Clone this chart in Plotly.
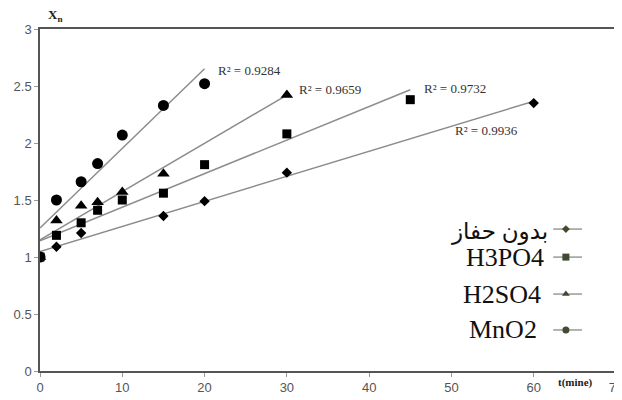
import numpy as np
import plotly.graph_objects as go

# ---- data ----
series_names = ["بدون حفاز", "H3PO4", "H2SO4", "MnO2"]
t_none = [0, 2, 5, 15, 20, 30, 60]
x_none = [1.0, 1.09, 1.21, 1.36, 1.49, 1.74, 2.35]
t_h3po4 = [0, 2, 5, 7, 10, 15, 20, 30, 45]
x_h3po4 = [1.0, 1.19, 1.30, 1.41, 1.50, 1.56, 1.81, 2.08, 2.38]
t_h2so4 = [0, 2, 5, 7, 10, 15, 30]
x_h2so4 = [1.0, 1.32, 1.45, 1.48, 1.57, 1.73, 2.42]
t_mno2 = [0, 2, 5, 7, 10, 15, 20]
x_mno2 = [1.0, 1.50, 1.66, 1.82, 2.07, 2.33, 2.52]
r2_labels = ["R² = 0.9936", "R² = 0.9732", "R² = 0.9659", "R² = 0.9284"]
r2_pos_x = [50.2, 46.4, 31.2, 21.4]
r2_pos_y = [2.11, 2.48, 2.47, 2.64]
x_ticks = [0, 10, 20, 30, 40, 50, 60, 70]
y_ticks = [0, 0.5, 1, 1.5, 2, 2.5, 3]

ts = [t_none, t_h3po4, t_h2so4, t_mno2]
xs = [x_none, x_h3po4, x_h2so4, x_mno2]
symbols = ["diamond", "square", "triangle-up", "circle"]
sizes = [8, 9, 11, 11]

fig = go.Figure()

# trend lines (least-squares fits of each series)
for t, x in zip(ts, xs):
    a, b = np.polyfit(t, x, 1)
    tt = np.array([0, max(t)])
    fig.add_trace(go.Scatter(x=tt, y=a * tt + b, mode="lines",
                             line=dict(color="#8c8c8c", width=1.5),
                             showlegend=False, hoverinfo="skip"))

# data points
for name, t, x, s, sz in zip(series_names, ts, xs, symbols, sizes):
    fig.add_trace(go.Scatter(x=t, y=x, mode="markers", name=name,
                             marker=dict(symbol=s, size=sz, color="black"),
                             showlegend=False))

# custom legend (glyph to the right of the text), drawn on an overlay axis in [0,1]
leg_y = [0.415, 0.333, 0.225, 0.120]
leg_text_x = [0.885, 0.878, 0.873, 0.866]
leg_text_dy = [-0.008, 0, 0, 0]
leg_font = [23, 26, 26, 26]
leg_sizes = [6, 7, 7, 7]
for name, s, ly, lx, dy, fs, sz in zip(series_names, symbols, leg_y, leg_text_x,
                                       leg_text_dy, leg_font, leg_sizes):
    fig.add_trace(go.Scatter(x=[0.891, 0.941], y=[ly, ly], mode="lines",
                             line=dict(color="#9a9a9a", width=1.5),
                             xaxis="x2", yaxis="y2", showlegend=False, hoverinfo="skip"))
    fig.add_trace(go.Scatter(x=[0.913], y=[ly], mode="markers",
                             marker=dict(symbol=s, size=sz, color="#414b30"),
                             xaxis="x2", yaxis="y2", showlegend=False, hoverinfo="skip"))
    fig.add_annotation(x=lx, y=ly + dy, xref="x2", yref="y2",
                       text=name, showarrow=False, xanchor="right", yanchor="middle",
                       font=dict(family="Liberation Serif, DejaVu Sans", size=fs, color="#111"))

# R^2 labels
for lab, px, py in zip(r2_labels, r2_pos_x, r2_pos_y):
    fig.add_annotation(x=px, y=py, text=lab, showarrow=False, xanchor="left",
                       yanchor="middle",
                       font=dict(family="Liberation Serif", size=13, color="#333"))

# axis titles
fig.add_annotation(x=0.0, y=1.0, xref="paper", yref="paper", xshift=6, yshift=14,
                   text="<b>X<sub>n</sub></b>", showarrow=False, xanchor="left", yanchor="middle",
                   font=dict(family="Liberation Serif", size=13, color="#222"))
fig.add_annotation(x=1.0, y=0.0, xref="paper", yref="paper", xshift=-21, yshift=-11,
                   text="<b>t(mine)</b>", showarrow=False, xanchor="right", yanchor="middle",
                   font=dict(family="Liberation Serif", size=11, color="#222"))

# page body has an 8px margin; size the figure so the plot area lands where the reference has it
fig.update_layout(
    width=614, height=392,
    margin=dict(l=32, r=6, t=21, b=29),
    plot_bgcolor="white", paper_bgcolor="white",
    xaxis=dict(range=[0, 70], tickvals=x_ticks, showgrid=False, zeroline=False,
               showline=True, linecolor="#555", linewidth=1.5, mirror=True,
               ticks="outside", ticklen=4, tickcolor="#999", automargin=False,
               ticklabeloverflow="allow",
               tickfont=dict(family="Liberation Sans", size=13, color="#555")),
    yaxis=dict(range=[0, 3], tickvals=y_ticks, showgrid=False, zeroline=False,
               showline=True, linecolor="#555", linewidth=1.5, mirror=True,
               ticks="outside", ticklen=4, tickcolor="#999", automargin=False,
               ticklabeloverflow="allow",
               tickfont=dict(family="Liberation Sans", size=13, color="#555")),
    xaxis2=dict(range=[0, 1], overlaying="x", visible=False, anchor="y2"),
    yaxis2=dict(range=[0, 1], overlaying="y", visible=False, anchor="x2"),
    showlegend=False,
)

fig.write_html("out.html")
